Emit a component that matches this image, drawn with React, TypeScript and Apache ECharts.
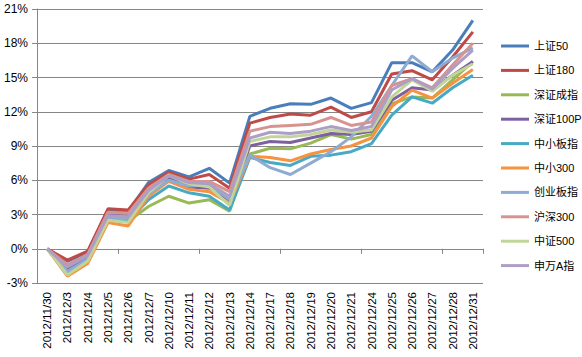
import React, { useEffect, useRef } from "react";
import * as echarts from "echarts";

const categories = [
  "2012/11/30", "2012/12/3", "2012/12/4", "2012/12/5", "2012/12/6", "2012/12/7",
  "2012/12/10", "2012/12/11", "2012/12/12", "2012/12/13", "2012/12/14", "2012/12/17",
  "2012/12/18", "2012/12/19", "2012/12/20", "2012/12/21", "2012/12/24", "2012/12/25",
  "2012/12/26", "2012/12/27", "2012/12/28", "2012/12/31",
];

const seriesNames = ["上证50", "上证180", "深证成指", "深证100P", "中小板指", "中小300", "创业板指", "沪深300", "中证500", "申万A指"];

const sz50 = [0, -1.1, -0.3, 3.4, 3.3, 5.8, 6.85, 6.3, 7.05, 5.75, 11.6, 12.3, 12.7, 12.65, 13.2, 12.3, 12.8, 16.3, 16.3, 15.5, 17.4, 20.0];
const sz180 = [0, -1.0, -0.2, 3.5, 3.4, 5.6, 6.7, 6.1, 6.5, 5.3, 11.0, 11.5, 11.8, 11.7, 12.4, 11.5, 12.0, 15.3, 15.6, 14.8, 16.8, 19.0];
const szcz = [0, -2.0, -1.0, 2.6, 2.4, 3.7, 4.6, 4.0, 4.3, 3.3, 8.3, 8.8, 8.75, 9.25, 10.0, 9.6, 10.0, 12.7, 13.3, 13.2, 14.8, 16.4];
const sz100p = [0, -1.7, -0.7, 3.0, 2.8, 5.0, 6.2, 5.4, 5.3, 4.2, 9.0, 9.4, 9.3, 9.7, 10.1, 10.0, 10.3, 13.0, 14.1, 13.9, 15.2, 16.4];
const zxbz = [0, -2.1, -1.0, 2.6, 2.4, 4.3, 5.5, 4.9, 4.6, 3.4, 8.0, 7.55, 7.3, 8.1, 8.2, 8.5, 9.2, 11.7, 13.3, 12.75, 14.1, 15.2];
const zx300 = [0, -2.4, -1.3, 2.3, 2.0, 4.6, 5.9, 5.2, 5.0, 4.0, 8.1, 8.0, 7.7, 8.3, 8.7, 9.0, 9.7, 12.45, 13.9, 13.2, 14.5, 15.7];
const cybz = [0, -2.0, -0.9, 2.7, 2.6, 4.8, 6.0, 5.5, 5.6, 4.3, 8.2, 7.1, 6.5, 7.5, 8.5, 9.8, 11.6, 14.3, 16.9, 15.5, 16.7, 17.6];
const hs300 = [0, -1.4, -0.5, 3.2, 3.1, 5.3, 6.5, 5.9, 5.9, 5.0, 10.3, 10.7, 10.8, 10.9, 11.5, 10.8, 11.1, 14.3, 14.9, 14.1, 16.1, 18.0];
const zz500 = [0, -2.3, -1.1, 2.5, 2.3, 4.9, 6.4, 5.7, 5.4, 3.8, 9.4, 9.8, 9.8, 10.0, 10.4, 10.2, 10.4, 13.3, 14.8, 13.8, 15.2, 16.2];
const swag = [0, -1.6, -0.6, 2.9, 2.8, 5.1, 6.4, 5.8, 5.7, 4.6, 9.7, 10.2, 10.1, 10.3, 10.7, 10.35, 10.7, 13.9, 14.9, 14.0, 15.8, 17.4];

const seriesValues = [sz50, sz180, szcz, sz100p, zxbz, zx300, cybz, hs300, zz500, swag];
const colors = ["#4A7EBB", "#BE4B48", "#98B954", "#7D60A0", "#46AAC5", "#F69240", "#8EABD3", "#D7938F", "#C0D597", "#AE9EC6"];

const yMin = -3;
const yMax = 21;
const yStep = 3;

export default function App() {
  const ref = useRef<HTMLDivElement>(null);
  useEffect(() => {
    if (!ref.current) return;
    const chart = echarts.init(ref.current, null, { renderer: "svg" });
    const font = "'Liberation Sans', Arial, 'Noto Sans CJK SC', sans-serif";
    chart.setOption({
      animation: false,
      backgroundColor: "#ffffff",
      color: colors,
      grid: { left: 37, right: 99, top: 9, bottom: 74, containLabel: false },
      legend: {
        orient: "vertical",
        left: 496,
        top: 34,
        icon: "rect",
        itemWidth: 28,
        itemHeight: 3,
        itemGap: 10.4,
        data: seriesNames,
        textStyle: { fontFamily: font, fontSize: 11, color: "#000", lineHeight: 14 },
      },
      xAxis: [
        {
          type: "category",
          position: "bottom",
          data: categories,
          boundaryGap: true,
          axisLine: { show: false, onZero: false },
          axisTick: { show: false },
          axisLabel: { rotate: 90, margin: 9, fontSize: 11.5, fontFamily: font, color: "#000" },
          splitLine: { show: false },
        },
        {
          type: "category",
          position: "bottom",
          data: categories,
          boundaryGap: true,
          axisLine: { show: true, onZero: true, lineStyle: { color: "#868686", width: 1 } },
          axisTick: { show: true, length: 5, lineStyle: { color: "#868686" } },
          axisLabel: { show: false },
          splitLine: { show: false },
        },
      ],
      yAxis: {
        type: "value",
        min: yMin,
        max: yMax,
        interval: yStep,
        axisLine: { show: true, lineStyle: { color: "#868686" } },
        axisTick: { show: true, length: 5, lineStyle: { color: "#868686" } },
        axisLabel: { formatter: "{value}%", fontSize: 12, fontFamily: font, color: "#000", margin: 9 },
        splitLine: { show: true, lineStyle: { color: "#868686", width: 1 } },
      },
      series: seriesNames.map((name, i) => ({
        name,
        type: "line",
        xAxisIndex: 0,
        data: seriesValues[i],
        symbol: "none",
        showSymbol: false,
        lineStyle: { width: 3, color: colors[i] },
        itemStyle: { color: colors[i] },
      })),
    });
    return () => chart.dispose();
  }, []);
  return <div ref={ref} style={{ width: 582, height: 357, position: "absolute", left: 0, top: 0 }} />;
}
